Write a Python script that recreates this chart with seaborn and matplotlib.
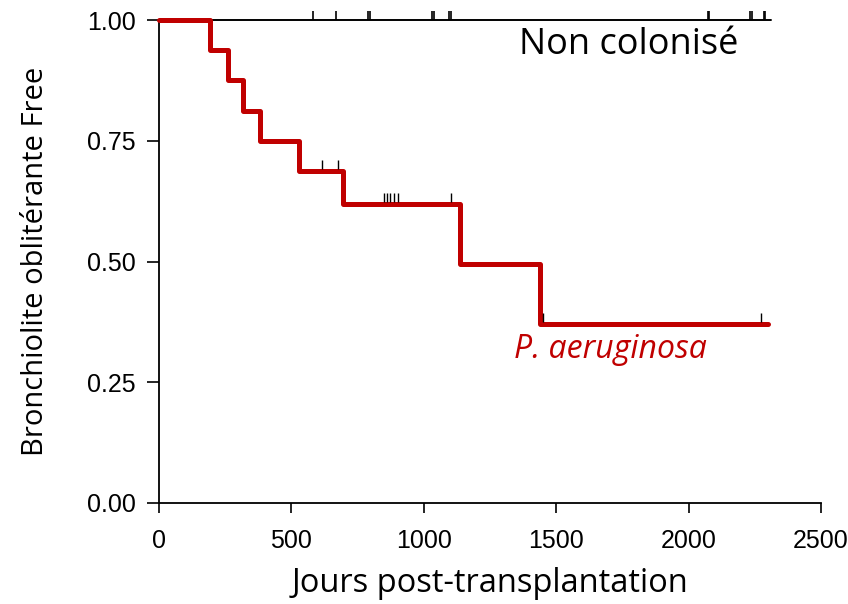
import matplotlib
matplotlib.use("Agg")
import matplotlib.pyplot as plt
import seaborn as sns
import pandas as pd
import numpy as np

# Courbe P. aeruginosa (Kaplan-Meier)
temps_pa = [0, 192, 260, 317, 381, 527, 693, 1138, 1438, 2300]
survie_pa = [1.0, 0.9375, 0.875, 0.8125, 0.75, 0.6875, 0.6188, 0.495, 0.371, 0.371]
censures_pa = [614, 675, 850, 862, 874, 887, 903, 1104, 1450, 2274]

# Courbe non colonisé
temps_nc = [0, 2310]
survie_nc = [1.0, 1.0]
censures_nc = [583, 667, 790, 797, 1030, 1037, 1096, 1103, 2072, 2078, 2232, 2238, 2283, 2290]

x_ticks = [0, 500, 1000, 1500, 2000, 2500]
y_ticks = [0.0, 0.25, 0.50, 0.75, 1.00]

df = pd.concat([
    pd.DataFrame({"temps": temps_nc, "survie": survie_nc, "groupe": "Non colonisé"}),
    pd.DataFrame({"temps": temps_pa, "survie": survie_pa, "groupe": "P. aeruginosa"}),
])

sns.set_style("ticks")
plt.rcParams['font.family'] = ['Open Sans', 'DejaVu Sans']
plt.rcParams['text.color'] = 'black'
plt.rcParams['axes.labelcolor'] = 'black'

fig = plt.figure(figsize=(8.48, 6.04), dpi=100)
ax = fig.add_axes([159 / 848, 1 - 503 / 604, (821 - 159) / 848, (503 - 20) / 604])

sns.lineplot(data=df[df.groupe == "Non colonisé"], x="temps", y="survie", color="black",
             linewidth=1.4, drawstyle="steps-post", ax=ax, clip_on=False, zorder=2)
sns.lineplot(data=df[df.groupe == "P. aeruginosa"], x="temps", y="survie", color="#C00000",
             linewidth=3.6, drawstyle="steps-post", ax=ax, clip_on=False, zorder=3)


def niveau(t, temps, survie):
    idx = np.searchsorted(temps, t, side="right") - 1
    return np.array(survie)[idx]


# Marques de censure
y_nc = niveau(np.array(censures_nc), temps_nc, survie_nc)
ax.vlines(censures_nc, y_nc, y_nc + 0.018, color="black", linewidth=1.2, clip_on=False, zorder=4)
y_pa = niveau(np.array(censures_pa), temps_pa, survie_pa)
ax.vlines(censures_pa, y_pa + 0.004, y_pa + 0.022, color="black", linewidth=1.0, clip_on=False, zorder=4)

ax.set_xlim(0, 2500)
ax.set_ylim(0, 1.0)
ax.set_xticks(x_ticks)
ax.set_yticks(y_ticks)
ax.set_xticklabels([str(v) for v in x_ticks], fontsize=18, family=['Liberation Sans'])
ax.set_yticklabels([f"{v:.2f}" for v in y_ticks], fontsize=18, family=['Liberation Sans'])
ax.tick_params(axis="both", direction="out", length=7, width=1.2, colors="black")
ax.tick_params(axis="x", pad=12)
ax.tick_params(axis="y", length=9, pad=8)
sns.despine(ax=ax)
for s in ["left", "bottom"]:
    ax.spines[s].set_linewidth(1.3)
    ax.spines[s].set_color("black")

ax.set_xlabel("Jours post-transplantation", fontsize=23.5, labelpad=10)
ax.set_ylabel("Bronchiolite oblitérante Free", fontsize=21, labelpad=26)

ax.text(2188, 0.948, "Non colonisé", fontsize=26, ha="right", va="center", color="black")
ax.text(1340, 0.318, "P. aeruginosa", fontsize=23, style="italic", ha="left", va="center", color="#C00000")

plt.savefig("out.png", dpi=100)
plt.close()
